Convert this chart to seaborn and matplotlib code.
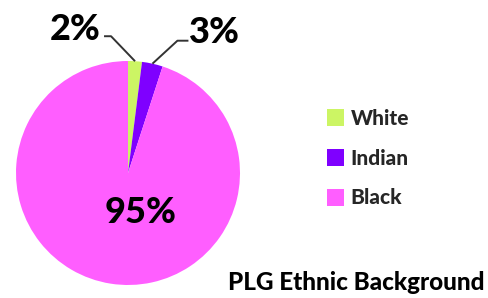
import matplotlib
matplotlib.use("Agg")
import matplotlib.pyplot as plt
import seaborn as sns
import numpy as np

categories = ["White", "Indian", "Black"]
values = [2, 3, 95]
pct_labels = ["2%", "3%", "95%"]
colors = ["#CCF564", "#7F00FF", "#FF5EFF"]
title = "PLG Ethnic Background"

sns.set_theme(style="white")
plt.rcParams['font.family'] = ['Lato', 'DejaVu Sans']

W, H = 489, 298
fig = plt.figure(figsize=(W / 100, H / 100), dpi=100)
fig.patch.set_facecolor("white")

# pie axes: left 16px, top 61px, size 224px
ax = fig.add_axes([16 / W, (H - 61 - 224) / H, 224 / W, 224 / H])
wedges, _ = ax.pie(values, colors=colors, startangle=90, counterclock=False,
                   radius=1.0, wedgeprops=dict(linewidth=0))
ax.set_xlim(-1, 1)
ax.set_ylim(-1, 1)
ax.set_aspect("equal")
ax.axis("off")

px = 1 / 112.0  # data units per pixel
offsets = {
    0: dict(text=(-60, 32), elbow=(-24, 25), end=(-31, 25)),
    1: dict(text=(62, 31), elbow=(25, 23), end=(36, 23)),
}
for i, w in enumerate(wedges):
    ang = np.deg2rad((w.theta1 + w.theta2) / 2)
    r = w.r
    x0, y0 = r * np.cos(ang), r * np.sin(ang)
    if i in offsets:
        o = offsets[i]
        ex, ey = x0 + o["elbow"][0] * px, y0 + o["elbow"][1] * px
        fx, fy = x0 + o["end"][0] * px, y0 + o["end"][1] * px
        ax.plot([x0, ex, fx], [y0, ey, fy], color="#333333", lw=1.4,
                solid_capstyle="butt", clip_on=False)
        ax.text(x0 + o["text"][0] * px, y0 + o["text"][1] * px, pct_labels[i],
                ha="center", va="center", fontsize=26, fontweight=900,
                color="black", clip_on=False)
    else:
        ax.text(0.11, -0.35, pct_labels[i], ha="center", va="center",
                fontsize=26, fontweight=900, color="black")

leg = fig.legend(wedges, categories, loc="upper left",
                 bbox_to_anchor=(308 / W, 1 - 90 / H), frameon=False,
                 handlelength=0.85, handleheight=0.85, handletextpad=0.3,
                 labelspacing=1.0, prop=dict(size=15, weight=900))

fig.text(485 / W, 1 - 283 / H, title, ha="right", va="center",
         fontsize=17.5, fontweight=900, color="black")

fig.savefig("out.png", dpi=100)
